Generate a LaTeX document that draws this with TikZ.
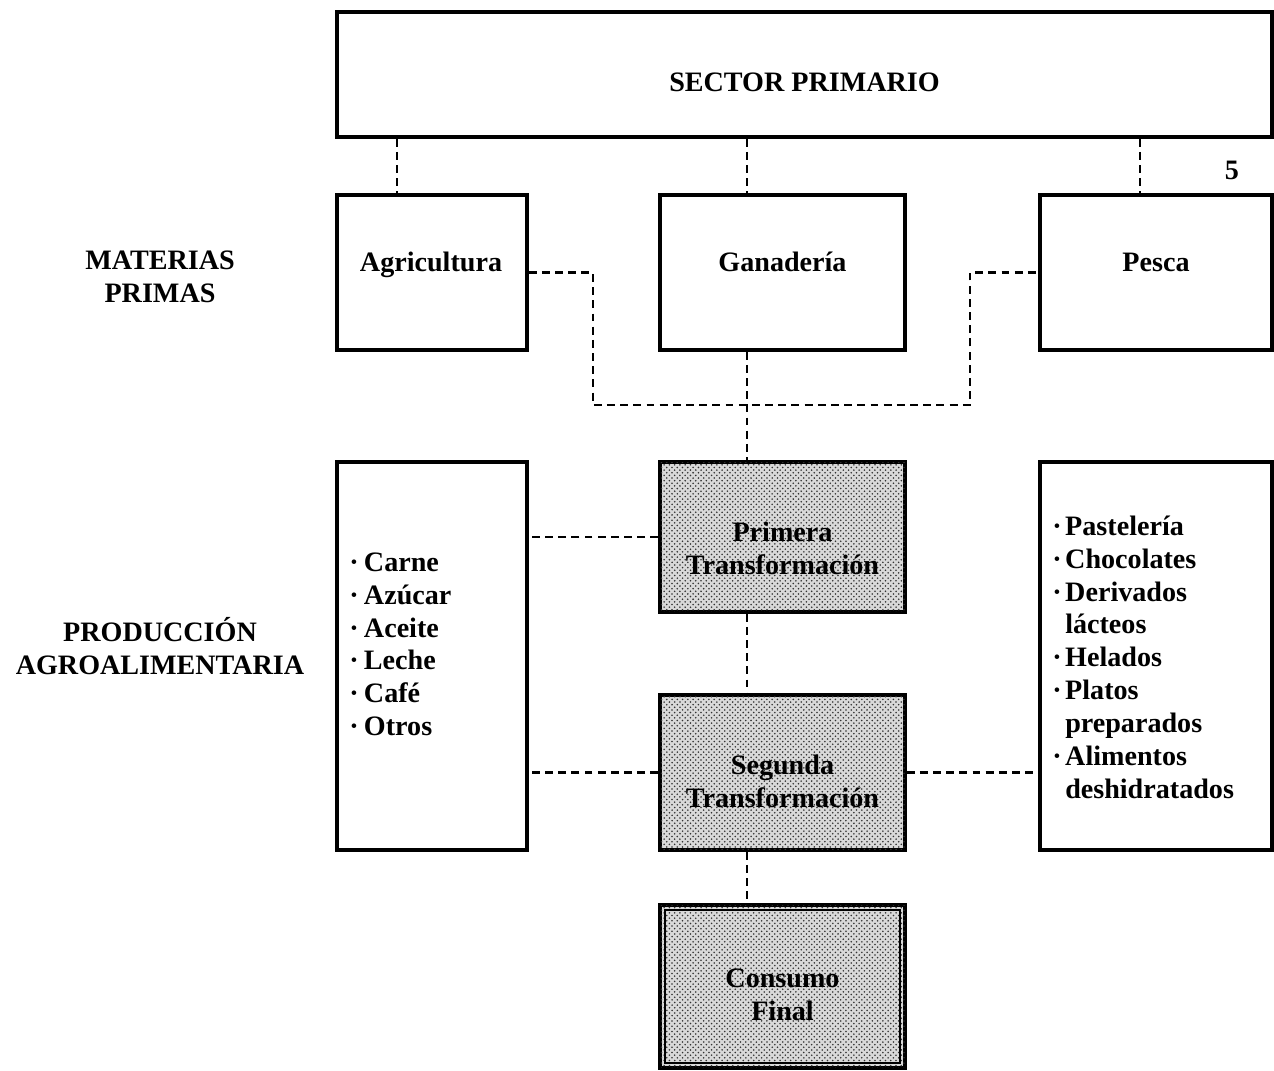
\documentclass[tikz,border=0pt]{standalone}
\usepackage{fontspec}
\setmainfont{Liberation Serif}
\usetikzlibrary{patterns,calc}
\begin{document}
\begin{tikzpicture}[x=0.02cm,y=-0.02cm,
  every node/.style={font=\bfseries\fontsize{16}{18.7}\selectfont, inner sep=0pt, align=center},
  box/.style={draw, line width=1.9pt, rectangle},
  shaded/.style={box, fill=gray!30, postaction={pattern=crosshatch dots, pattern color=black!80}},
  conn/.style={line width=1.5pt, dash pattern=on 4.5pt off 3pt}]
\useasboundingbox (0,0) rectangle (1274,1071);
% spines
\coordinate (xa) at (397,0);
\coordinate (xm) at (747,0);
\coordinate (xp) at (1140,0);
\coordinate (j1) at (593,405);
\coordinate (j2) at (970,405);
% boxes
\node[box, minimum width=18.7cm, minimum height=2.5cm] (sec) at (804.5,74.5) {};
\node[box, minimum width=3.8cm, minimum height=3.1cm] (agr) at (432,272.5) {};
\node[box, minimum width=4.9cm, minimum height=3.1cm] (gan) at (782.5,272.5) {};
\node[box, minimum width=4.64cm, minimum height=3.1cm] (pes) at (1156,272.5) {};
\node[box, minimum width=3.8cm, minimum height=7.76cm] (prod) at (432,656) {};
\node[shaded, minimum width=4.9cm, minimum height=3.0cm] (pri) at (782.5,537) {};
\node[shaded, minimum width=4.9cm, minimum height=3.1cm] (seg) at (782.5,772.5) {};
\node[box, minimum width=4.64cm, minimum height=7.76cm] (der) at (1156,656) {};
\node[shaded, minimum width=4.9cm, minimum height=3.26cm] (con) at (782.5,986.5) {};
\draw[line width=1.1pt] ($(con.north west)+(7,7)$) rectangle ($(con.south east)+(-7,-7)$);
% box texts
\node[anchor=base] (sectxt) at (804.5,92) {SECTOR PRIMARIO};
\node[anchor=base] (agrtxt) at (431,272) {Agricultura};
\node[anchor=base] (gantxt) at (782.5,272) {Ganadería};
\node[anchor=base] (pestxt) at (1156,272) {Pesca};
\node (pritxt) at (782.5,548) {Primera\\Transformación};
\node (segtxt) at (782.5,781) {Segunda\\Transformación};
\node (contxt) at (782.5,995) {Consumo\\Final};
% lists
\node[anchor=north west, align=left] (prodlist) at (349,548) {%
\begin{tabular}{@{}l@{\hspace{3pt}}l@{}}
·&Carne\\ ·&Azúcar\\ ·&Aceite\\ ·&Leche\\ ·&Café\\ ·&Otros
\end{tabular}};
\node[anchor=north west, align=left] (derlist) at (1052,512) {%
\begin{tabular}{@{}l@{\hspace{2pt}}l@{}}
·&Pastelería\\ ·&Chocolates\\ ·&Derivados\\ &lácteos\\ ·&Helados\\ ·&Platos\\ &preparados\\ ·&Alimentos\\ &deshidratados
\end{tabular}};
% side labels
\node (mat) at (160,277) {MATERIAS\\PRIMAS};
\node (pa) at (160,646) {PRODUCCIÓN\\AGROALIMENTARIA};
\node (num) at (1232,170) {5};
% connectors
\draw[conn] (sec.south -| xa) -- (agr.north -| xa);
\draw[conn] (sec.south -| xm) -- (gan.north -| xm);
\draw[conn] (sec.south -| xp) -- (pes.north -| xp);
\draw[conn] (agr.east) -| (j1) -- (j2) |- (pes.west);
\draw[conn] (gan.south -| xm) -- (pri.north -| xm);
\draw[conn] (pri.west) -- (prod.east |- pri.west);
\draw[conn] (pri.south -| xm) -- (seg.north -| xm);
\draw[conn] (seg.west) -- (prod.east |- seg.west);
\draw[conn] (seg.east) -- (der.west |- seg.east);
\draw[conn] (seg.south -| xm) -- (con.north -| xm);
\end{tikzpicture}
\end{document}
